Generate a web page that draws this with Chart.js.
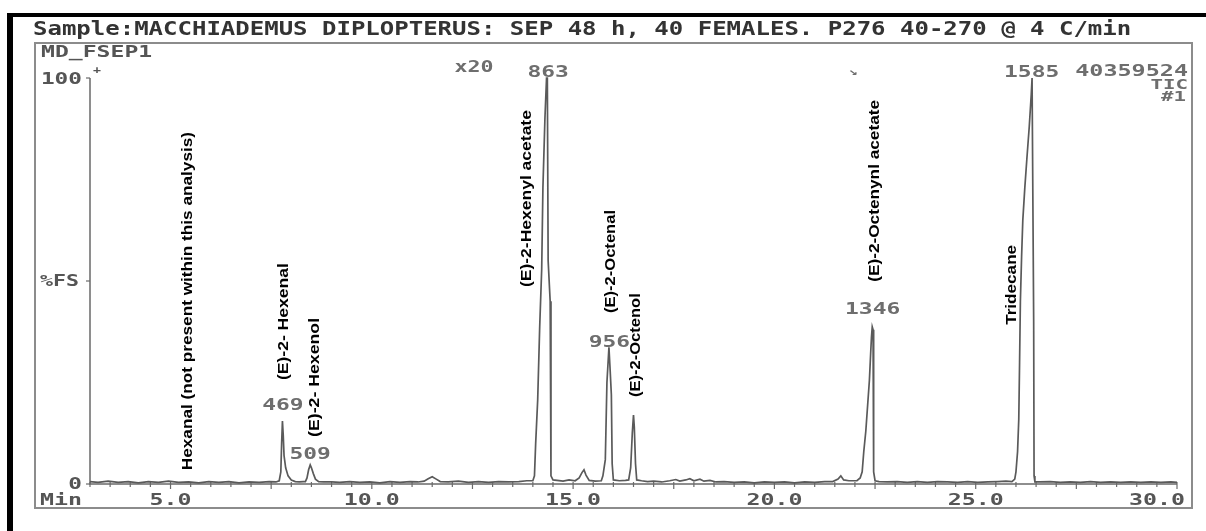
<!DOCTYPE html>
<html>
<head>
<meta charset="utf-8">
<script src="https://cdn.jsdelivr.net/npm/chart.js@4/dist/chart.umd.min.js"></script>
<style>
  html, body { margin: 0; padding: 0; background: #ffffff; }
  #wrap { position: relative; width: 1206px; height: 531px; }
</style>
</head>
<body>
<div id="wrap"><canvas id="tic"></canvas></div>
<script>
// Total ion chromatogram, retention time (min) vs. abundance (% full scale)
const retentionTimes = [
  3.00, 3.20, 3.45, 3.70, 3.95, 4.20, 4.45, 4.70, 4.95, 5.20, 5.45, 5.70, 5.95, 6.20, 6.45, 6.70, 6.95, 7.20, 7.45, 7.62,
  7.70, 7.74, 7.76, 7.78, 7.80, 7.82, 7.86, 7.92, 8.00, 8.10, 8.20, 8.30, 8.35, 8.39, 8.43, 8.47, 8.50, 8.55, 8.60, 8.68,
  8.80, 9.00, 9.20, 9.45, 9.70, 9.95, 10.20, 10.45, 10.70, 10.95, 11.15, 11.30, 11.40, 11.50, 11.60, 11.70, 11.90, 12.15, 12.40, 12.65,
  12.90, 13.15, 13.40, 13.65, 13.85, 14.00, 14.04, 14.07, 14.12, 14.17, 14.22, 14.25, 14.30, 14.34, 14.36, 14.38, 14.43, 14.45, 14.50, 14.60,
  14.75, 14.90, 15.05, 15.15, 15.22, 15.27, 15.32, 15.40, 15.55, 15.70, 15.74, 15.80, 15.84, 15.89, 15.92, 15.95, 15.97, 16.00, 16.15, 16.30,
  16.38, 16.43, 16.47, 16.50, 16.52, 16.55, 16.58, 16.70, 16.85, 17.00, 17.20, 17.40, 17.55, 17.65, 17.80, 17.90, 18.00, 18.15, 18.25, 18.40,
  18.55, 18.75, 19.00, 19.25, 19.50, 19.75, 20.00, 20.25, 20.50, 20.75, 21.00, 21.25, 21.45, 21.58, 21.65, 21.72, 21.85, 22.05, 22.13, 22.18,
  22.22, 22.27, 22.32, 22.36, 22.39, 22.41, 22.43, 22.45, 22.46, 22.47, 22.50, 22.60, 22.80, 23.05, 23.30, 23.55, 23.80, 24.05, 24.30, 24.55,
  24.80, 25.05, 25.30, 25.55, 25.75, 25.90, 25.97, 26.00, 26.04, 26.07, 26.09, 26.11, 26.14, 26.17, 26.22, 26.27, 26.33, 26.38, 26.40, 26.42,
  26.44, 26.45, 26.47, 26.60, 26.85, 27.10, 27.35, 27.60, 27.85, 28.10, 28.35, 28.60, 28.85, 29.10, 29.35, 29.60, 29.85, 30.00
];
const abundance = [
  0.6, 0.4, 0.7, 0.4, 0.6, 0.3, 0.6, 0.4, 0.7, 0.4, 0.5, 0.3, 0.6, 0.4, 0.6, 0.3, 0.5, 0.4, 0.6, 0.5,
  0.8, 3.0, 10.0, 15.5, 12.0, 7.0, 4.0, 2.0, 1.0, 0.6, 0.5, 0.6, 0.6, 1.5, 3.5, 4.7, 4.0, 2.5, 1.2, 0.6,
  0.5, 0.5, 0.4, 0.6, 0.4, 0.5, 0.3, 0.6, 0.4, 0.6, 0.5, 0.7, 1.3, 1.8, 1.2, 0.6, 0.5, 0.7, 0.4, 0.6,
  0.4, 0.6, 0.5, 0.6, 0.8, 0.8, 2.0, 10.0, 20.7, 38.7, 53.0, 73.0, 90.0, 100.0, 100.0, 55.0, 45.0, 2.0, 1.0, 0.9,
  0.7, 1.0, 0.8, 1.5, 2.8, 3.5, 2.2, 0.9, 0.7, 0.8, 2.0, 6.0, 25.0, 33.7, 28.0, 22.0, 5.0, 1.0, 0.8, 0.9,
  1.0, 4.0, 12.5, 17.0, 14.0, 5.0, 1.0, 0.8, 0.6, 0.7, 0.5, 0.8, 1.1, 0.7, 1.0, 1.3, 0.8, 1.2, 0.7, 0.9,
  0.5, 0.6, 0.4, 0.5, 0.3, 0.5, 0.4, 0.5, 0.3, 0.5, 0.4, 0.6, 0.6, 1.2, 2.0, 1.0, 0.8, 0.8, 1.5, 3.0,
  8.0, 13.0, 20.0, 25.6, 32.0, 36.0, 38.7, 38.0, 20.0, 3.0, 0.8, 0.6, 0.5, 0.6, 0.4, 0.6, 0.4, 0.6, 0.5, 0.4,
  0.6, 0.4, 0.5, 0.6, 0.7, 0.6, 1.2, 3.0, 8.0, 16.0, 30.0, 45.0, 56.0, 65.0, 73.0, 80.0, 88.0, 96.0, 100.0, 100.0,
  40.0, 2.0, 0.5, 0.5, 0.6, 0.4, 0.5, 0.4, 0.6, 0.4, 0.5, 0.4, 0.5, 0.4, 0.5, 0.4, 0.5, 0.4
];

// x-axis tick labels (minutes)
const timeTicks = [5, 10, 15, 20, 25, 30];
const timeTickLabels = ['5.0', '10.0', '15.0', '20.0', '25.0', '30.0'];

// scan numbers printed above the apex of each integrated peak
const scanNumbers = ['469', '509', '863', '956', '1346', '1585'];
const scanTimes = [7.79, 8.47, 14.38, 15.90, 22.44, 26.39];

// identified compounds
const compoundNames = [
  'Hexanal (not present within this analysis)',
  '(E)-2- Hexenal',
  '(E)-2- Hexenol',
  '(E)-2-Hexenyl acetate',
  '(E)-2-Octenal',
  '(E)-2-Octenol',
  '(E)-2-Octenynl acetate',
  'Tridecane'
];
const compoundTimes = [5.43, 7.81, 8.58, 13.84, 15.93, 16.55, 22.50, 25.90];

const titleText = 'Sample:MACCHIADEMUS DIPLOPTERUS: SEP 48 h, 40 FEMALES. P276 40-270 @ 4 C/min';
const fileName = 'MD_FSEP1';
const totalIonCount = '40359524';

// where each text sits, in axis units (time, % of full scale)
const scanLabelLevels = [19.5, 7.6, 101.5, 35.0, 43.1, 101.7];
const compoundSpans = [
  [3.4, 86.7], [25.6, 54.4], [11.6, 40.9], [48.5, 92.1],
  [42.1, 67.5], [21.4, 47.0], [49.8, 94.6], [39.2, 58.9]
];

const MONO = '"DejaVu Sans Mono", "Liberation Mono", monospace';
const SANS = '"Liberation Sans", Arial, sans-serif';

// Monospaced text stretched so each character advances a fixed width
function monoText(ctx, str, x, yMid, opt) {
  const size = opt.size, adv = opt.adv;
  ctx.save();
  ctx.font = 'bold ' + size + 'px ' + MONO;
  const nat = ctx.measureText('0').width;
  const sx = adv / nat;
  const w = adv * str.length;
  let left = x;
  if (opt.align === 'center') left = x - w / 2;
  else if (opt.align === 'right') left = x - w;
  ctx.fillStyle = opt.color;
  ctx.textAlign = 'left';
  ctx.textBaseline = 'alphabetic';
  ctx.translate(left, yMid + size * 0.729 / 2);
  ctx.scale(sx, 1);
  ctx.fillText(str, 0, 0);
  ctx.restore();
}

// Bold sans label written bottom-to-top between two vertical pixel positions
function verticalLabel(ctx, str, x, yBottom, yTop, size) {
  ctx.save();
  ctx.font = 'bold ' + size + 'px ' + SANS;
  const w = ctx.measureText(str).width;
  const sx = (yBottom - yTop) / w;
  ctx.fillStyle = '#000000';
  ctx.textAlign = 'left';
  ctx.textBaseline = 'middle';
  ctx.translate(x, yBottom);
  ctx.rotate(-Math.PI / 2);
  ctx.scale(sx, 1);
  ctx.fillText(str, 0, 0);
  ctx.restore();
}

const chromFrame = {
  id: 'chromFrame',
  beforeDraw(chart) {
    const ctx = chart.ctx;
    const x = chart.scales.x, y = chart.scales.y;
    const a = chart.chartArea;
    ctx.save();
    ctx.fillStyle = '#ffffff';
    ctx.fillRect(0, 0, chart.width, chart.height);

    // heavy black border (top and left)
    ctx.fillStyle = '#000000';
    ctx.fillRect(7, 13, chart.width - 7, 4);
    ctx.fillRect(7, 13, 6, chart.height - 13);

    // grey instrument frame
    ctx.strokeStyle = '#8c8c8c';
    ctx.lineWidth = 2;
    ctx.strokeRect(35, 43, 1157, 465);

    // axes
    ctx.strokeStyle = '#6a6a6a';
    ctx.lineWidth = 1.5;
    ctx.beginPath();
    ctx.moveTo(a.left, y.getPixelForValue(100));
    ctx.lineTo(a.left, y.getPixelForValue(0));
    ctx.lineTo(x.getPixelForValue(30), y.getPixelForValue(0));
    ctx.stroke();

    // y ticks
    ctx.lineWidth = 1.2;
    [100, 50, 0].forEach(v => {
      const py = y.getPixelForValue(v);
      ctx.beginPath();
      ctx.moveTo(a.left - 4, py);
      ctx.lineTo(a.left, py);
      ctx.stroke();
    });
    // x ticks every half minute, longer every 2.5 min
    const yb = y.getPixelForValue(0);
    for (let i = 6; i <= 60; i++) {
      const t = i / 2;
      const px = x.getPixelForValue(t);
      const major = (i % 5 === 0);
      ctx.beginPath();
      ctx.moveTo(px, yb - 2);
      ctx.lineTo(px, yb + (major ? 5 : 3));
      ctx.stroke();
    }
    ctx.restore();
  },
  afterDatasetsDraw(chart) {
    const ctx = chart.ctx;
    const x = chart.scales.x, y = chart.scales.y;
    const a = chart.chartArea;
    const axisGrey = '#555555';
    const peakGrey = '#6e6e6e';

    monoText(ctx, titleText, 33, 28, { size: 19, adv: 14.45, align: 'left', color: '#333333' });
    monoText(ctx, fileName, 41, 52, { size: 15, adv: 13.9, align: 'left', color: axisGrey });

    monoText(ctx, '100', 82, y.getPixelForValue(100) + 1, { size: 15, adv: 13.7, align: 'right', color: axisGrey });
    monoText(ctx, '%FS', 79, y.getPixelForValue(50), { size: 15, adv: 13.0, align: 'right', color: axisGrey });
    monoText(ctx, '0', 82, y.getPixelForValue(0), { size: 15, adv: 13.7, align: 'right', color: axisGrey });
    monoText(ctx, 'Min', 40, 500, { size: 15, adv: 14.0, align: 'left', color: axisGrey });
    monoText(ctx, '+', a.left + 7, 69, { size: 11, adv: 8, align: 'center', color: axisGrey });

    timeTicks.forEach((t, i) => {
      const px = x.getPixelForValue(t);
      const last = i === timeTicks.length - 1;
      monoText(ctx, timeTickLabels[i], last ? px + 8 : px, 500,
        { size: 15, adv: 14.0, align: last ? 'right' : 'center', color: axisGrey });
    });

    scanNumbers.forEach((s, i) => {
      monoText(ctx, s, x.getPixelForValue(scanTimes[i]), y.getPixelForValue(scanLabelLevels[i]),
        { size: 15, adv: 13.8, align: 'center', color: peakGrey });
    });

    monoText(ctx, 'x20', 474, 67, { size: 15, adv: 13.0, align: 'center', color: peakGrey });
    monoText(ctx, totalIonCount, 1188, 71, { size: 15, adv: 14.1, align: 'right', color: peakGrey });
    monoText(ctx, 'TIC', 1188, 84, { size: 14, adv: 12.5, align: 'right', color: peakGrey });
    monoText(ctx, '#1', 1186, 96, { size: 14, adv: 12.5, align: 'right', color: peakGrey });
    monoText(ctx, '\u2198', 853, 71, { size: 11, adv: 9, align: 'center', color: peakGrey });

    compoundNames.forEach((n, i) => {
      verticalLabel(ctx, n, x.getPixelForValue(compoundTimes[i]),
        y.getPixelForValue(compoundSpans[i][0]), y.getPixelForValue(compoundSpans[i][1]), 15);
    });
  }
};

const points = retentionTimes.map((t, i) => ({ x: t, y: abundance[i] }));

new Chart(document.getElementById('tic'), {
  type: 'line',
  data: {
    datasets: [{
      data: points,
      borderColor: '#5a5a5a',
      borderWidth: 1.7,
      pointRadius: 0,
      tension: 0,
      fill: false,
      clip: false
    }]
  },
  options: {
    responsive: true,
    maintainAspectRatio: false,
    animation: false,
    events: [],
    layout: { padding: { left: 90, top: 78, right: 29, bottom: 47 } },
    scales: {
      x: { type: 'linear', min: 3, max: 30, display: false },
      y: { type: 'linear', min: 0, max: 100, display: false }
    },
    plugins: { legend: { display: false }, tooltip: { enabled: false } }
  },
  plugins: [chromFrame]
});
</script>
</body>
</html>
